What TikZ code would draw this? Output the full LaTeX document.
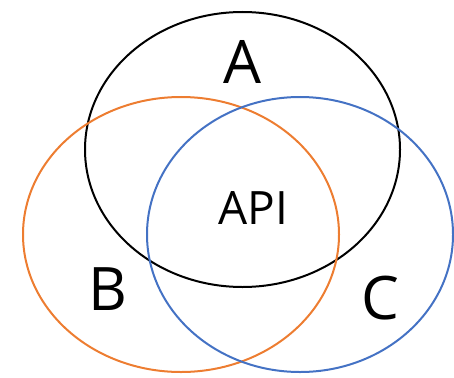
\documentclass[tikz,border=0pt]{standalone}
\usepackage{fontspec}
\setmainfont{Open Sans}
\usetikzlibrary{shapes.geometric}
\definecolor{setorange}{RGB}{237,125,49}
\definecolor{setblue}{RGB}{68,114,196}
\begin{document}
\begin{tikzpicture}[x=1pt,y=-1pt,
  setring/.style={draw, ellipse, line width=2pt, inner sep=0pt},
  setname/.style={font=\fontsize{60}{60}\selectfont, inner sep=0pt}]
\useasboundingbox (0,0) rectangle (454,377);
\node[setring, minimum width=315pt, minimum height=275pt] (setA) at (242.5,149.5) {};
\node[setring, setorange, minimum width=316pt, minimum height=275pt] (setB) at (181,234.5) {};
\node[setring, setblue, minimum width=306pt, minimum height=275pt] (setC) at (300,234.5) {};

\node[setname] (nameA) at (242,62) {A};
\node[setname] (nameB) at (108,289) {B};
\node[setname] (nameC) at (380,298) {C};
\node[font=\fontsize{46}{46}\selectfont, inner sep=0pt] (core) at (253,208) {API};
\end{tikzpicture}
\end{document}
